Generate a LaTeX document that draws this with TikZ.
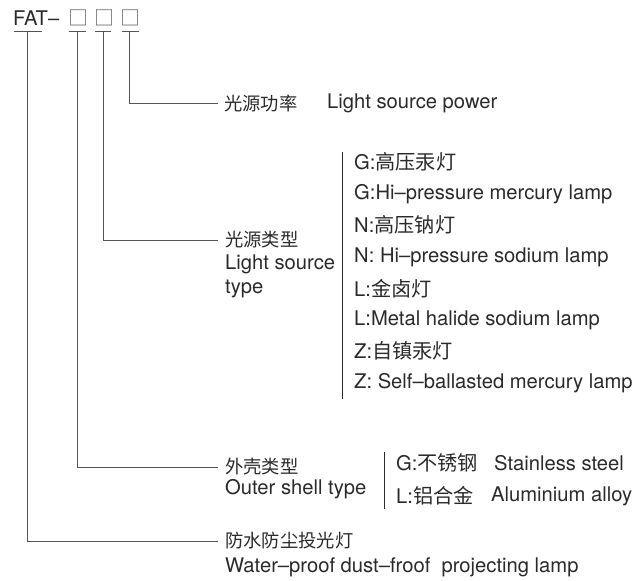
\documentclass[tikz,border=0pt]{standalone}
\usepackage{fontspec}
\setmainfont{TeX Gyre Heros}
\newfontfamily\cjk{Noto Sans CJK SC}
\definecolor{txt}{HTML}{2A2A2A}
\definecolor{ln}{HTML}{555555}
\begin{document}
\begin{tikzpicture}[x=1pt,y=-1pt,
  lbl/.style={anchor=west,inner sep=0pt,text=txt,font=\fontsize{20.2}{22}\selectfont},
  zh/.style={anchor=west,inner sep=0pt,text=txt,font=\fontsize{18.3}{22}\selectfont\cjk},
  conn/.style={draw=ln,line width=0.9pt},
  bar/.style={draw=txt,line width=1pt},
  codebox/.style={anchor=center,inner sep=0pt,text=txt!75,font=\fontsize{20}{22}\selectfont\cjk}]
\useasboundingbox (0,0) rectangle (633,581);
% code line
\node[lbl] (fat) at (13,18) {FAT–};
\node[codebox] (b1) at (78,18) {□};
\node[codebox] (b2) at (104,18) {□};
\node[codebox] (b3) at (130,18) {□};
% underlines
\coordinate (u0) at (27.5,31);
\coordinate (u1) at (77.5,31);
\coordinate (u2) at (103,31);
\coordinate (u3) at (129.5,31);
\draw[conn] ([xshift=-13.5pt]u0) -- ([xshift=14.5pt]u0);
\draw[conn] ([xshift=-9pt]u1) -- ([xshift=8pt]u1);
\draw[conn] ([xshift=-8.5pt]u2) -- ([xshift=8pt]u2);
\draw[conn] ([xshift=-8pt]u3) -- ([xshift=9pt]u3);
% light source power
\node[zh] (pw) at (224,103) {光源功率};
\node[lbl] (pwe) at (327,103) {Light source power};
\draw[conn,shorten >=6pt] (u3) |- (pw.west);
% light source type
\node[zh] (lt) at (225,240) {光源类型};
\node[lbl] (lt2) at (225,264) {Light source};
\node[lbl] (lt3) at (225,289) {type};
\draw[conn,shorten >=7pt] (u2) |- (lt.west);
\coordinate (bt1) at (342,152);
\coordinate (bt2) at (342,399);
\draw[bar] (bt1) -- (bt2);
\node[lbl] (g1) at (354,162) {G:{\cjk 高压汞灯}};
\node[lbl] (g2) at (354,194) {G:Hi–pressure mercury lamp};
\node[lbl] (n1) at (354,225) {N:{\cjk 高压钠灯}};
\node[lbl] (n2) at (354,257) {N: Hi–pressure sodium lamp};
\node[lbl] (l1) at (354,289) {L:{\cjk 金卤灯}};
\node[lbl] (l2) at (354,320) {L:Metal halide sodium lamp};
\node[lbl] (z1) at (354,351) {Z:{\cjk 自镇汞灯}};
\node[lbl] (z2) at (354,383) {Z: Self–ballasted mercury lamp};
% outer shell type
\node[zh] (os) at (225,467) {外壳类型};
\node[lbl] (os2) at (225,489) {Outer shell type};
\draw[conn,shorten >=7pt] (u1) |- (os.west);
\coordinate (bs1) at (384,452);
\coordinate (bs2) at (384,509);
\draw[bar] (bs1) -- (bs2);
\node[lbl] (sg) at (396,463) {G:{\cjk 不锈钢}};
\node[lbl] (sge) at (494,463) {Stainless steel};
\node[lbl] (sl) at (396,496) {L:{\cjk 铝合金}};
\node[lbl] (sle) at (491,496) {Aluminium alloy};
% water-proof
\node[zh] (wp) at (225,541) {防水防尘投光灯};
\node[lbl] (wp2) at (225,567) {Water–proof dust–froof\ \ projecting lamp};
\draw[conn,shorten >=7pt] (u0) |- (wp.west);
\end{tikzpicture}
\end{document}
